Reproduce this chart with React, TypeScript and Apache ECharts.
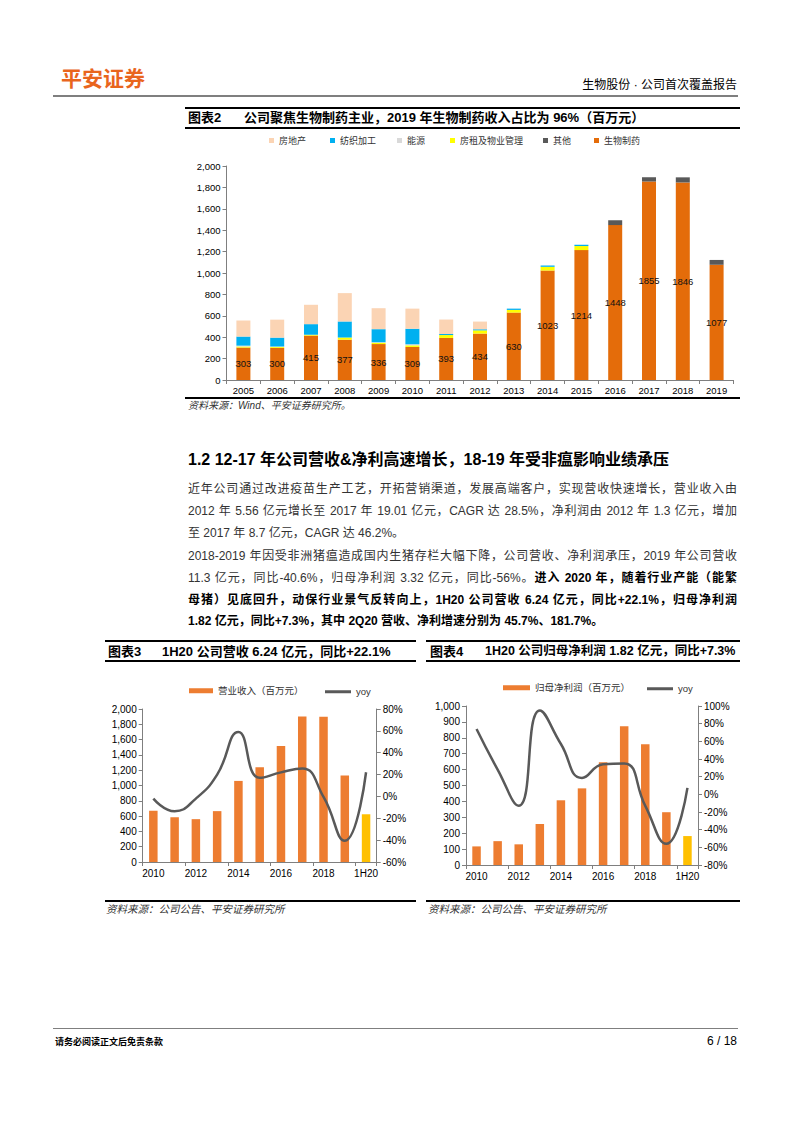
import React, { useEffect, useRef } from "react";
import * as echarts from "echarts";

const FONT = '"Liberation Sans", Arial, "Noto Sans CJK SC", sans-serif';

// ---- Chart 2 data ----
const years2 = ["2005","2006","2007","2008","2009","2010","2011","2012","2013","2014","2015","2016","2017","2018","2019"];
const bioPharma = [303,300,415,377,336,309,393,434,630,1023,1214,1448,1855,1846,1077];
const rentMgmt = [10,8,8,20,12,15,27,30,25,35,38,0,0,0,0];
const energy = [8,5,0,0,5,10,0,0,0,0,0,0,0,0,0];
const textile = [85,83,99,150,122,145,10,10,12,12,12,0,0,0,0];
const realEstate = [150,168,181,265,196,188,135,72,0,0,0,0,0,0,0];
const others = [0,0,0,0,0,0,0,0,0,0,0,45,40,48,45];

// ---- Chart 3 data ----
const cats3 = ["2010","2011","2012","2013","2014","2015","2016","2017","2018","2019","1H20"];
const revenue = [670,585,560,665,1060,1240,1515,1901,1900,1130,624];
const revenueYoy = [-2,-13.5,-2,20,59,17,22,25.5,-0.5,-40.6,22.1];

// ---- Chart 4 data ----
const cats4 = ["2010","2011","2012","2013","2014","2015","2016","2017","2018","2019","1H20"];
const netProfit = [117,150,130,258,407,482,646,872,759,332,182];
const netProfitYoy = [74,28,-13,95,57,18.5,34,35,-13,-56,7.3];

const legend2 = [
  ["房地产", 269],
  ["纺织加工", 330],
  ["能源", 397],
  ["房租及物业管理", 450],
  ["其他", 543],
  ["生物制药", 594],
];

const C = {
  realEstate: "#fbd4b4",
  textile: "#00b0f0",
  energy: "#d9d9d9",
  rent: "#ffff00",
  other: "#595959",
  bio: "#e46c0a",
  bar: "#ed7d31",
  half: "#ffc000",
  line: "#595959",
  axis: "#7f7f7f",
};

const thousands = (v: number) => v.toLocaleString("en-US");

function buildOption() {
  const axisLine = { show: true, lineStyle: { color: C.axis, width: 1 } };
  const tick = { show: true, length: 4, lineStyle: { color: C.axis } };
  const lbl = { color: "#000", fontSize: 9.5, fontFamily: FONT };
  const lineLegend = { icon: "rect", itemWidth: 26, itemHeight: 3, itemStyle: { color: C.line } };
  return {
    animation: false,
    textStyle: { fontFamily: FONT },
    grid: [
      { left: 226.5, top: 166, width: 507, height: 214 },
      { left: 142.7, top: 709, width: 234, height: 153 },
      { left: 466, top: 706, width: 232, height: 159 },
    ],
    legend: [
      ...legend2.map(([name, x]) => ({
        data: [name],
        left: x,
        top: 136,
        padding: 0,
        itemWidth: 5,
        itemHeight: 5,
        icon: "rect",
        textStyle: { fontSize: 9, color: "#333", fontFamily: FONT },
      })),
      { data: ["营业收入（百万元）"], left: 189, top: 686, padding: 0, itemWidth: 24, itemHeight: 5, icon: "rect", textStyle: { fontSize: 9.5, color: "#333" } },
      { data: ["yoy"], left: 325, top: 687, padding: 0, ...lineLegend, textStyle: { fontSize: 9.5, color: "#333" } },
      { data: ["归母净利润（百万元）"], left: 503, top: 683, padding: 0, itemWidth: 27, itemHeight: 5, icon: "rect", textStyle: { fontSize: 9.5, color: "#333" } },
      { data: ["yoy "], left: 647, top: 684, padding: 0, ...lineLegend, textStyle: { fontSize: 9.5, color: "#333" } },
    ],
    xAxis: [
      { type: "category", gridIndex: 0, data: years2, axisLine, axisTick: tick, axisLabel: { ...lbl, margin: 6 } },
      { type: "category", gridIndex: 1, data: cats3, axisLine, axisTick: { ...tick, interval: 1 }, axisLabel: { ...lbl, fontSize: 10, interval: 1, margin: 6 } },
      { type: "category", gridIndex: 2, data: cats4, axisLine, axisTick: { ...tick, interval: 1 }, axisLabel: { ...lbl, fontSize: 10, interval: 1, margin: 6 } },
    ],
    yAxis: [
      { type: "value", gridIndex: 0, min: 0, max: 2000, interval: 200, axisLine, axisTick: tick, splitLine: { show: false }, axisLabel: { ...lbl, margin: 6, formatter: thousands } },
      { type: "value", gridIndex: 1, min: 0, max: 2000, interval: 200, axisLine, axisTick: tick, splitLine: { show: false }, axisLabel: { ...lbl, fontSize: 10, margin: 6, formatter: thousands } },
      { type: "value", gridIndex: 1, position: "right", min: -60, max: 80, interval: 20, axisLine, axisTick: tick, splitLine: { show: false }, axisLabel: { ...lbl, fontSize: 10, margin: 6, formatter: "{value}%" } },
      { type: "value", gridIndex: 2, min: 0, max: 1000, interval: 100, axisLine, axisTick: tick, splitLine: { show: false }, axisLabel: { ...lbl, fontSize: 10, margin: 6, formatter: thousands } },
      { type: "value", gridIndex: 2, position: "right", min: -80, max: 100, interval: 20, axisLine, axisTick: tick, splitLine: { show: false }, axisLabel: { ...lbl, fontSize: 10, margin: 6, formatter: "{value}%" } },
    ],
    series: [
      { name: "生物制药", type: "bar", stack: "s", xAxisIndex: 0, yAxisIndex: 0, barWidth: 14, data: bioPharma, itemStyle: { color: C.bio },
        label: { show: true, position: "inside", color: "#111", fontSize: 9.5, fontFamily: FONT } },
      { name: "房租及物业管理", type: "bar", stack: "s", xAxisIndex: 0, yAxisIndex: 0, barWidth: 14, data: rentMgmt, itemStyle: { color: C.rent } },
      { name: "能源", type: "bar", stack: "s", xAxisIndex: 0, yAxisIndex: 0, barWidth: 14, data: energy, itemStyle: { color: C.energy } },
      { name: "纺织加工", type: "bar", stack: "s", xAxisIndex: 0, yAxisIndex: 0, barWidth: 14, data: textile, itemStyle: { color: C.textile } },
      { name: "房地产", type: "bar", stack: "s", xAxisIndex: 0, yAxisIndex: 0, barWidth: 14, data: realEstate, itemStyle: { color: C.realEstate } },
      { name: "其他", type: "bar", stack: "s", xAxisIndex: 0, yAxisIndex: 0, barWidth: 14, data: others, itemStyle: { color: C.other } },

      { name: "营业收入（百万元）", type: "bar", xAxisIndex: 1, yAxisIndex: 1, barWidth: 8.5, itemStyle: { color: C.bar },
        data: revenue.map((v, i) => (cats3[i] === "1H20" ? { value: v, itemStyle: { color: C.half } } : v)) },
      { name: "yoy", type: "line", xAxisIndex: 1, yAxisIndex: 2, smooth: 0.5, symbol: "none", data: revenueYoy,
        lineStyle: { color: C.line, width: 2.5 }, itemStyle: { color: C.line } },

      { name: "归母净利润（百万元）", type: "bar", xAxisIndex: 2, yAxisIndex: 3, barWidth: 8.5, itemStyle: { color: C.bar },
        data: netProfit.map((v, i) => (cats4[i] === "1H20" ? { value: v, itemStyle: { color: C.half } } : v)) },
      { name: "yoy ", type: "line", xAxisIndex: 2, yAxisIndex: 4, smooth: 0.5, symbol: "none", data: netProfitYoy,
        lineStyle: { color: C.line, width: 2.5 }, itemStyle: { color: C.line } },
    ],
  };
}

type TP = { x: number; y: number; size: number; bold?: boolean; italic?: boolean; color?: string; right?: boolean; children: React.ReactNode };
function T({ x, y, size, bold, italic, color, right, children }: TP) {
  const lh = size * 1.4;
  const style: React.CSSProperties = {
    position: "absolute",
    top: y - lh / 2,
    lineHeight: lh + "px",
    fontSize: size,
    fontWeight: bold ? "bold" : "normal",
    fontStyle: italic ? "italic" : "normal",
    color: color || "#000",
    whiteSpace: "nowrap",
    fontFamily: FONT,
  };
  if (right) style.right = 793 - x; else style.left = x;
  return <div style={style}>{children}</div>;
}

function Line({ x1, x2, y, h, color }: { x1: number; x2: number; y: number; h: number; color: string }) {
  return <div style={{ position: "absolute", left: x1, top: y - h / 2, width: x2 - x1, height: h, background: color }} />;
}

function PLine({ y, last, children }: { y: number; last?: boolean; children: React.ReactNode }) {
  return (
    <div style={{ position: "absolute", left: 188, top: y - 11, width: 549, lineHeight: "22px", fontSize: 12, color: "#333",
      textAlign: "justify", textAlignLast: last ? "left" : "justify", whiteSpace: "nowrap", fontFamily: FONT } as React.CSSProperties}>
      {children}
    </div>
  );
}

const B = ({ children }: { children: React.ReactNode }) => <span style={{ fontWeight: "bold", color: "#000" }}>{children}</span>;

export default function App() {
  const ref = useRef<HTMLDivElement>(null);
  useEffect(() => {
    if (!ref.current) return;
    const chart = echarts.init(ref.current, null, { renderer: "svg" });
    chart.setOption(buildOption() as any);
    return () => chart.dispose();
  }, []);
  return (
    <div style={{ position: "absolute", left: 0, top: 0, width: 793, height: 1122, background: "#fff", overflow: "hidden", fontFamily: FONT }}>
      <div ref={ref} style={{ position: "absolute", left: 0, top: 0, width: 793, height: 1122 }} />

      {/* header */}
      <T x={61} y={79} size={21} bold color="#e9651d">平安证券</T>
      <T x={737} y={85} size={12} right>生物股份 · 公司首次覆盖报告</T>
      <Line x1={53} x2={738} y={95.5} h={2} color="#7f7f7f" />

      {/* chart 2 frame */}
      <Line x1={185} x2={740} y={108} h={1.5} color="#000" />
      <T x={188} y={118} size={13} bold>图表2</T>
      <T x={244} y={118} size={13} bold>公司聚焦生物制药主业，2019 年生物制药收入占比为 96%（百万元）</T>
      <Line x1={185} x2={740} y={128} h={1.2} color="#000" />
      <Line x1={185} x2={740} y={398} h={1.2} color="#000" />
      <T x={188} y={406} size={10} italic color="#333">资料来源：Wind、平安证券研究所。</T>

      {/* section */}
      <T x={188} y={460} size={16} bold>1.2 12-17 年公司营收&amp;净利高速增长，18-19 年受非瘟影响业绩承压</T>
      <PLine y={489}>近年公司通过改进疫苗生产工艺，开拓营销渠道，发展高端客户，实现营收快速增长，营业收入由</PLine>
      <PLine y={511}>2012 年 5.56 亿元增长至 2017 年 19.01 亿元，CAGR 达 28.5%，净利润由 2012 年 1.3 亿元，增加</PLine>
      <PLine y={533} last>至 2017 年 8.7 亿元，CAGR 达 46.2%。</PLine>
      <PLine y={556}>2018-2019 年因受非洲猪瘟造成国内生猪存栏大幅下降，公司营收、净利润承压，2019 年公司营收</PLine>
      <PLine y={578}>11.3 亿元，同比-40.6%，归母净利润 3.32 亿元，同比-56%。<B>进入 2020 年，随着行业产能（能繁</B></PLine>
      <PLine y={600}><B>母猪）见底回升，动保行业景气反转向上，1H20 公司营收 6.24 亿元，同比+22.1%，归母净利润</B></PLine>
      <PLine y={621} last><B>1.82 亿元，同比+7.3%，其中 2Q20 营收、净利增速分别为 45.7%、181.7%。</B></PLine>

      {/* chart 3 frame */}
      <Line x1={105} x2={416} y={641} h={1.5} color="#000" />
      <T x={108} y={652} size={13} bold>图表3</T>
      <T x={162} y={652} size={13} bold>1H20 公司营收 6.24 亿元，同比+22.1%</T>
      <Line x1={105} x2={416} y={661} h={1.2} color="#000" />
      <Line x1={105} x2={416} y={901} h={1.2} color="#000" />
      <T x={106} y={909} size={10.5} italic color="#333">资料来源：公司公告、平安证券研究所</T>

      {/* chart 4 frame */}
      <Line x1={426} x2={740} y={641} h={1.5} color="#000" />
      <T x={430} y={652} size={13} bold>图表4</T>
      <T x={485} y={652} size={12.5} bold>1H20 公司归母净利润 1.82 亿元，同比+7.3%</T>
      <Line x1={426} x2={740} y={661} h={1.2} color="#000" />
      <Line x1={426} x2={740} y={901} h={1.2} color="#000" />
      <T x={428} y={909} size={10.5} italic color="#333">资料来源：公司公告、平安证券研究所</T>

      {/* footer */}
      <Line x1={53} x2={738} y={1028} h={1} color="#7f7f7f" />
      <T x={55} y={1042} size={9} bold>请务必阅读正文后免责条款</T>
      <T x={737} y={1041} size={12} right>6 / 18</T>
    </div>
  );
}
